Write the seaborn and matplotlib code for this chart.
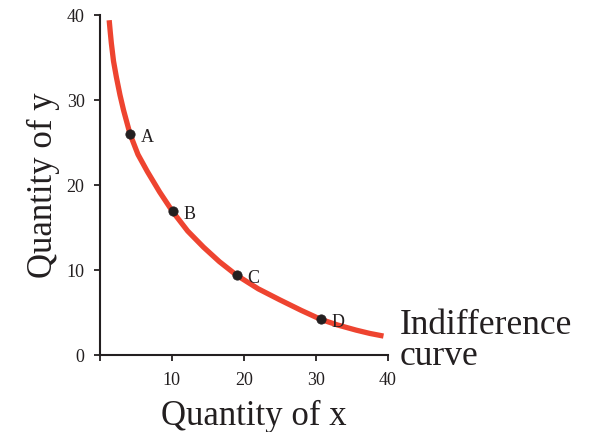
import pandas as pd
import matplotlib.pyplot as plt
import seaborn as sns

# curve
curve_x = [1.3, 1.45, 1.6, 1.9, 2.3, 2.8, 3.3, 4.2, 5.3, 6.6, 8.3, 10.1, 12.2,
           14.4, 16.6, 19.0, 22.0, 25.0, 28.0, 30.7, 33.0, 35.6, 37.5, 39.4]
curve_y = [39.4, 38.0, 36.7, 34.6, 32.7, 30.6, 28.8, 26.0, 23.6, 21.6, 19.2, 16.9, 14.6,
           12.7, 11.0, 9.4, 7.8, 6.5, 5.25, 4.2, 3.55, 2.94, 2.55, 2.24]

# labelled bundles
point_names = ["A", "B", "C", "D"]
point_x = [4.2, 10.1, 19.0, 30.7]
point_y = [26.0, 16.9, 9.4, 4.2]

x_ticks = [0, 10, 20, 30, 40]
x_ticklabels = ["", "10", "20", "30", "40"]
y_ticks = [0, 10, 20, 30, 40]
y_ticklabels = ["0", "10", "20", "30", "40"]

curve = pd.DataFrame({"x": curve_x, "y": curve_y})
points = pd.DataFrame({"x": point_x, "y": point_y, "name": point_names})

sns.set_style("ticks")
plt.rcParams["font.family"] = ["Liberation Serif", "DejaVu Serif"]
ink = "#231f20"

fig = plt.figure(figsize=(6.05, 4.32), dpi=100)
ax = fig.add_axes([0.165, 0.178, 0.476, 0.787])

sns.lineplot(data=curve, x="x", y="y", ax=ax, color="#ee4430", linewidth=3.8,
             sort=False, solid_capstyle="butt", solid_joinstyle="round")
sns.scatterplot(data=points, x="x", y="y", ax=ax, color=ink, s=45,
                edgecolor=ink, zorder=3)
for _, r in points.iterrows():
    ax.text(r["x"] + 1.5, r["y"] - 0.4, r["name"], fontsize=13, color=ink,
            va="center", ha="left")

ax.set_xlim(0, 40)
ax.set_ylim(0, 40)
ax.set_xticks(x_ticks)
ax.set_xticklabels(x_ticklabels)
ax.set_yticks(y_ticks)
ax.set_yticklabels(y_ticklabels)
ax.tick_params(axis="both", direction="out", length=4, width=1.3, colors=ink,
               labelsize=13)
ax.tick_params(axis="x", pad=8)
ax.tick_params(axis="y", pad=7)
sns.despine(ax=ax)
for s in ["left", "bottom"]:
    ax.spines[s].set_linewidth(1.5)
    ax.spines[s].set_color(ink)

ax.set_xlabel("Quantity of x", fontsize=25, color=ink, labelpad=8)
ax.set_ylabel("Quantity of y", fontsize=25, color=ink, labelpad=5)
ax.xaxis.label.set_x(0.535)

fig.text(400 / 605, 1 - 341 / 432, "Indifference\ncurve", fontsize=25.5,
         color=ink, ha="left", va="center", linespacing=0.92)

fig.savefig("out.png", dpi=100)
